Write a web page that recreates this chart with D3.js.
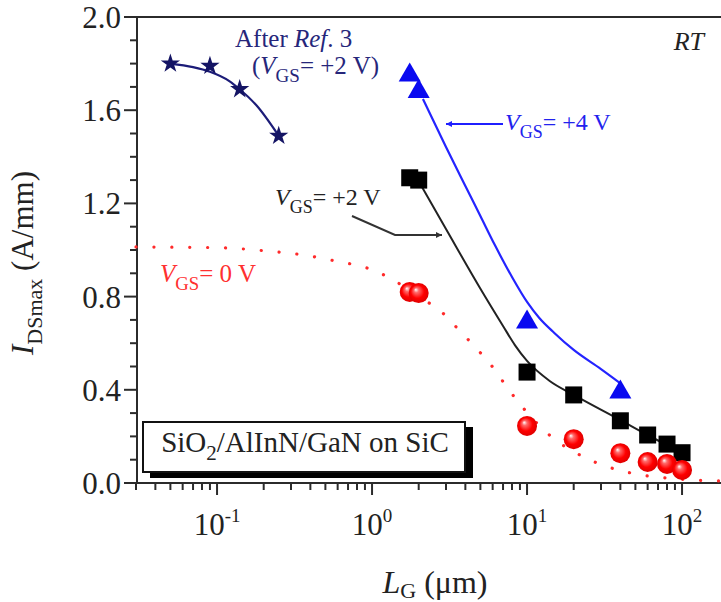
<!DOCTYPE html>
<html><head><meta charset="utf-8">
<script src="https://cdn.jsdelivr.net/npm/d3@7"></script>
<style>html,body{margin:0;padding:0;background:#fff;} svg{display:block;}</style>
</head><body><svg id="c" width="721" height="602"></svg>
<script>
// ---------- data ----------
const xMajorTicks = [0.1, 1, 10, 100];
const xMajorExp = ["-1", "0", "1", "2"];
const xMinorTicks = [0.03,0.04,0.05,0.06,0.07,0.08,0.09,0.2,0.3,0.4,0.5,0.6,0.7,0.8,0.9,2,3,4,5,6,7,8,9,20,30,40,50,60,70,80,90,200];
const yMajorTicks = [0, 0.4, 0.8, 1.2, 1.6, 2.0];
const yMinorTicks = [0.1,0.2,0.3,0.5,0.6,0.7,0.9,1.0,1.1,1.3,1.4,1.5,1.7,1.8,1.9];

// After Ref. 3 (stars)
const starL = [0.05, 0.09, 0.14, 0.25];
const starI = [1.80, 1.79, 1.69, 1.49];
const starFitL = [0.05, 0.07, 0.09, 0.12, 0.14, 0.18, 0.25];
const starFitI = [1.80, 1.785, 1.765, 1.725, 1.69, 1.62, 1.49];

// VGS = +4 V (triangles)
const triL = [1.75, 2.0, 10, 40];
const triI = [1.75, 1.68, 0.69, 0.39];
const triFitL = [2.13, 3, 4, 5, 6.2, 8, 10, 12, 15, 20, 30, 40];
const triFitI = [1.648, 1.442, 1.275, 1.146, 1.021, 0.884, 0.777, 0.708, 0.644, 0.571, 0.489, 0.428];

// VGS = +2 V (squares)
const sqL = [1.75, 2.0, 10, 20, 40, 60, 80, 100];
const sqI = [1.31, 1.30, 0.476, 0.378, 0.267, 0.206, 0.167, 0.13];
const sqFitL = [2.1, 3.0, 4.97, 7.0, 8.35, 10, 14, 20, 40, 60, 100];
const sqFitI = [1.27, 1.09, 0.837, 0.674, 0.592, 0.524, 0.438, 0.378, 0.27, 0.206, 0.129];

// VGS = 0 V (spheres)
const sphL = [1.75, 2.0, 10, 20, 40, 60, 80, 100];
const sphI = [0.82, 0.815, 0.245, 0.188, 0.128, 0.09, 0.082, 0.056];
const sphFitL = [0.03, 0.1, 0.2, 0.35, 0.58, 1.0, 1.3, 2.0, 2.8, 3.6, 4.6, 5.8, 7.0, 8.6, 14, 24, 42, 117, 200];
const sphFitI = [1.013, 1.010, 0.997, 0.98, 0.953, 0.915, 0.88, 0.80, 0.735, 0.66, 0.585, 0.51, 0.435, 0.355, 0.205, 0.107, 0.05, 0.013, 0.008];

// ---------- drawing ----------
const FONT = "'Liberation Serif','Times New Roman',serif";
const svg = d3.select("#c");
const x = d3.scaleLog().domain([0.03, 200]).range([136, 728.7]);
const y = d3.scaleLinear().domain([0, 2]).range([483, 17]);
const AX = "#2b2b2b";

const defs = svg.append("defs");
const g = defs.append("radialGradient").attr("id","sph").attr("cx","50%").attr("cy","50%").attr("r","55%").attr("fx","35%").attr("fy","32%");
g.append("stop").attr("offset","0%").attr("stop-color","#ffffff");
g.append("stop").attr("offset","22%").attr("stop-color","#ff6a6a");
g.append("stop").attr("offset","60%").attr("stop-color","#ff0000");
g.append("stop").attr("offset","100%").attr("stop-color","#d80000");
const mk = (id, col) => defs.append("marker").attr("id", id).attr("viewBox","0 0 10 10").attr("refX",10).attr("refY",5)
  .attr("markerWidth",10).attr("markerHeight",6).attr("markerUnits","userSpaceOnUse").attr("orient","auto")
  .append("path").attr("d","M0,0L10,5L0,10z").attr("fill", col);
mk("ab", "#1f1fff"); mk("ak", "#333");

// frame lines
svg.append("line").attr("x1", x.range()[0]).attr("x2", 729).attr("y1", y(2)).attr("y2", y(2)).attr("stroke", AX).attr("stroke-width", 2);
svg.append("line").attr("x1", 137).attr("x2", 137).attr("y1", y(2)).attr("y2", y(0)).attr("stroke", AX).attr("stroke-width", 2);
svg.append("line").attr("x1", 124).attr("x2", 729).attr("y1", y(0)).attr("y2", y(0)).attr("stroke", AX).attr("stroke-width", 2);

// y ticks
yMajorTicks.forEach(v => {
  svg.append("line").attr("x1",124).attr("x2",137).attr("y1",y(v)).attr("y2",y(v)).attr("stroke",AX).attr("stroke-width",2);
  svg.append("text").attr("x",121).attr("y",y(v)+11).attr("text-anchor","end").attr("font-family",FONT).attr("font-size",31).attr("fill","#222").text(v.toFixed(1));
});
yMinorTicks.forEach(v => {
  svg.append("line").attr("x1",130).attr("x2",137).attr("y1",y(v)).attr("y2",y(v)).attr("stroke",AX).attr("stroke-width",2);
});
// x ticks
xMajorTicks.forEach((v,i) => {
  svg.append("line").attr("x1",x(v)).attr("x2",x(v)).attr("y1",483).attr("y2",495).attr("stroke",AX).attr("stroke-width",2);
  const t = svg.append("text").attr("x",x(v)).attr("y",535).attr("text-anchor","middle").attr("font-family",FONT).attr("font-size",31).attr("fill","#222");
  t.append("tspan").text("10");
  t.append("tspan").attr("font-size",19).attr("dy",-13).text(xMajorExp[i]);
});
xMinorTicks.forEach(v => {
  svg.append("line").attr("x1",x(v)).attr("x2",x(v)).attr("y1",483).attr("y2",490).attr("stroke",AX).attr("stroke-width",2);
});

// axis titles
const yl = svg.append("text").attr("transform","translate(33,263) rotate(-90)").attr("text-anchor","middle").attr("font-family",FONT).attr("font-size",31).attr("fill","#222");
yl.append("tspan").attr("font-style","italic").text("I");
yl.append("tspan").attr("font-size",22).attr("dy",9).text("DSmax");
yl.append("tspan").attr("dy",-9).text(" (A/mm)");
const xl = svg.append("text").attr("x",435).attr("y",593).attr("text-anchor","middle").attr("font-family",FONT).attr("font-size",32).attr("fill","#222");
xl.append("tspan").attr("font-style","italic").text("L");
xl.append("tspan").attr("font-size",22).attr("dy",5).text("G");
xl.append("tspan").attr("dy",-5).text(" (\u03bcm)");

// legend box
svg.append("rect").attr("x",150).attr("y",427).attr("width",323).attr("height",51).attr("fill","#000");
svg.append("rect").attr("x",143).attr("y",422).attr("width",322).attr("height",50).attr("fill","#fff").attr("stroke","#111").attr("stroke-width",2);
const lt = svg.append("text").attr("x",305).attr("y",452).attr("text-anchor","middle").attr("font-family",FONT).attr("font-size",29).attr("fill","#222");
lt.append("tspan").text("SiO");
lt.append("tspan").attr("font-size",21).attr("dy",8).text("2");
lt.append("tspan").attr("dy",-8).text("/AlInN/GaN on SiC");

// curves
const line = d3.line().x(d => x(d[0])).y(d => y(d[1])).curve(d3.curveMonotoneX);
const zip = (a,b) => a.map((v,i) => [v,b[i]]);
svg.append("path").attr("d", line(zip(sphFitL, sphFitI))).attr("fill","none").attr("stroke","#ff2a2a").attr("stroke-width",3.2).attr("stroke-linecap","round").attr("stroke-dasharray","0.1 17.8");
svg.append("path").attr("d", line(zip(starFitL, starFitI))).attr("fill","none").attr("stroke","#1c1c78").attr("stroke-width",2.2);
svg.append("path").attr("d", line(zip(triFitL, triFitI))).attr("fill","none").attr("stroke","#2424ff").attr("stroke-width",2.2);
svg.append("path").attr("d", line(zip(sqFitL, sqFitI))).attr("fill","none").attr("stroke","#222").attr("stroke-width",2);

// markers
svg.selectAll(null).data(zip(starL, starI)).join("path")
  .attr("transform", d => `translate(${x(d[0])},${y(d[1])})`)
  .attr("d", d3.symbol(d3.symbolStar, 115)).attr("fill","#141464");
svg.selectAll(null).data(zip(sqL, sqI)).join("path")
  .attr("transform", d => `translate(${x(d[0])},${y(d[1])})`)
  .attr("d", d3.symbol(d3.symbolSquare, 289)).attr("fill","#000");
svg.selectAll(null).data(zip(triL, triI)).join("path")
  .attr("transform", d => `translate(${x(d[0])},${y(d[1])})`)
  .attr("d", d3.symbol(d3.symbolTriangle, 210)).attr("fill","#0a0af0");
svg.selectAll(null).data(zip(sphL, sphI)).join("circle")
  .attr("cx", d => x(d[0])).attr("cy", d => y(d[1])).attr("r", 10).attr("fill","url(#sph)");

// annotations
function vgs(xp, yp, fs, col, rest) {
  const t = svg.append("text").attr("x",xp).attr("y",yp).attr("font-family",FONT).attr("font-size",fs).attr("fill",col);
  t.append("tspan").attr("font-style","italic").text("V");
  t.append("tspan").attr("font-size",fs*0.75).attr("dy",8).text("GS");
  t.append("tspan").attr("dy",-8).text(rest);
  return t;
}
const a1 = svg.append("text").attr("x",235).attr("y",47).attr("font-family",FONT).attr("font-size",25).attr("fill","#26267a");
a1.append("tspan").text("After ");
a1.append("tspan").attr("font-style","italic").text("Ref");
a1.append("tspan").text(". 3");
const a2 = svg.append("text").attr("x",252).attr("y",74).attr("font-family",FONT).attr("font-size",25).attr("fill","#26267a");
a2.append("tspan").text("(");
a2.append("tspan").attr("font-style","italic").text("V");
a2.append("tspan").attr("font-size",19).attr("dy",8).text("GS");
a2.append("tspan").attr("dy",-8).text("= +2 V)");

svg.append("text").attr("x",704).attr("y",50).attr("text-anchor","end").attr("font-family",FONT).attr("font-size",26).attr("font-style","italic").attr("fill","#222").text("RT");

vgs(505, 130, 24, "#2222ee", "= +4 V");
svg.append("line").attr("x1",503).attr("x2",446).attr("y1",124).attr("y2",124).attr("stroke","#1f1fff").attr("stroke-width",2).attr("marker-end","url(#ab)");

vgs(275, 205, 24, "#222", "= +2 V");
svg.append("polyline").attr("points","352,216 395,235 442,235").attr("fill","none").attr("stroke","#333").attr("stroke-width",2).attr("marker-end","url(#ak)");

vgs(160, 282, 25, "#ff3030", "= 0 V");
</script></body></html>
